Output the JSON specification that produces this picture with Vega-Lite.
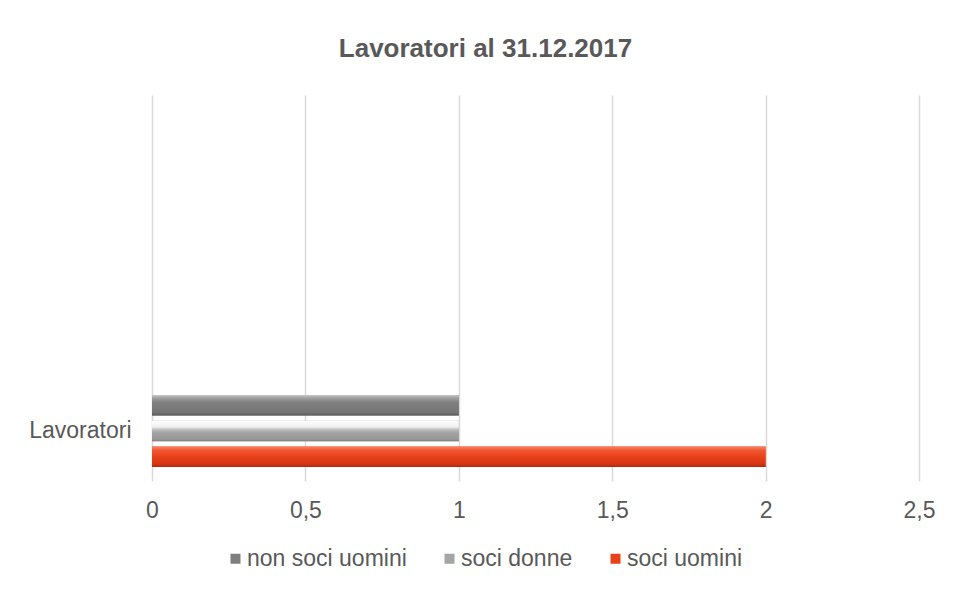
{
  "$schema": "https://vega.github.io/schema/vega-lite/v6.json",
  "width": 767,
  "height": 386,
  "autosize": {"type": "none"},
  "padding": {"left": 152, "top": 95, "right": 36, "bottom": 109},
  "background": "#ffffff",
  "config": {
    "view": {"stroke": null},
    "font": "Liberation Sans",
    "axis": {"labelFont": "Liberation Sans", "labelColor": "#595959"},
    "legend": {"labelFont": "Liberation Sans", "labelColor": "#595959"}
  },
  "title": {
    "text": "Lavoratori al 31.12.2017",
    "fontSize": 26,
    "fontWeight": "bold",
    "color": "#595959",
    "font": "Liberation Sans",
    "anchor": "middle",
    "dx": -50,
    "offset": 33
  },
  "data": {
    "values": [
      {"cat": "Lavoratori", "serie": "non soci uomini", "valore": 1},
      {"cat": "Lavoratori", "serie": "soci donne", "valore": 1},
      {"cat": "Lavoratori", "serie": "soci uomini", "valore": 2}
    ]
  },
  "encoding": {
    "y": {
      "field": "cat",
      "type": "nominal",
      "title": null,
      "scale": {"domain": ["Lavoratori"], "paddingInner": 0.5, "paddingOuter": 1, "align": 0.963},
      "axis": {"domain": false, "ticks": false, "labelPadding": 21, "labelFontSize": 23}
    },
    "yOffset": {
      "field": "serie",
      "type": "nominal",
      "scale": {"domain": ["non soci uomini", "soci donne", "soci uomini"], "paddingInner": 0.2, "paddingOuter": 0.1}
    },
    "x": {
      "field": "valore",
      "type": "quantitative",
      "title": null,
      "scale": {"domain": [0, 2.5], "nice": false},
      "axis": {
        "values": [0, 0.5, 1, 1.5, 2, 2.5],
        "labelExpr": "replace(toString(datum.value), '.', ',')",
        "grid": true,
        "gridColor": "#d9d9d9",
        "gridWidth": 1.5,
        "domain": false,
        "ticks": false,
        "labelPadding": 18,
        "labelFontSize": 23,
        "labelFlush": false
      }
    }
  },
  "layer": [
    {
      "mark": {"type": "bar"},
      "encoding": {
        "color": {
          "field": "serie",
          "type": "nominal",
          "scale": {
            "domain": ["non soci uomini", "soci donne", "soci uomini"],
            "range": ["#7f7f7f", "#a5a5a5", "#e8421b"]
          },
          "legend": {
            "title": null,
            "orient": "none",
            "direction": "horizontal",
            "legendX": 72,
            "legendY": 452,
            "symbolType": "square",
            "symbolSize": 100,
            "symbolStrokeWidth": 0,
            "symbolOpacity": 1,
            "labelFontSize": 23,
            "labelOffset": 0,
            "columnPadding": 31
          }
        }
      }
    },
    {
      "transform": [{"filter": "datum.serie == 'non soci uomini'"}],
      "mark": {"type": "bar", "color": {"gradient": "linear", "x1": 0, "y1": 0, "x2": 0, "y2": 1, "stops": [
        {"offset": 0, "color": "#c8c8c8"}, {"offset": 0.15, "color": "#a0a0a0"}, {"offset": 0.35, "color": "#808080"}, {"offset": 0.85, "color": "#747474"}, {"offset": 1, "color": "#5a5a5a"}]}}
    },
    {
      "transform": [{"filter": "datum.serie == 'soci donne'"}],
      "mark": {"type": "bar", "color": {"gradient": "linear", "x1": 0, "y1": 0, "x2": 0, "y2": 1, "stops": [
        {"offset": 0, "color": "#ffffff"}, {"offset": 0.3, "color": "#f0f0f0"}, {"offset": 0.45, "color": "#b8b8b8"}, {"offset": 0.6, "color": "#a2a2a2"}, {"offset": 0.9, "color": "#979797"}, {"offset": 1, "color": "#808080"}]}}
    },
    {
      "transform": [{"filter": "datum.serie == 'soci uomini'"}],
      "mark": {"type": "bar", "color": {"gradient": "linear", "x1": 0, "y1": 0, "x2": 0, "y2": 1, "stops": [
        {"offset": 0, "color": "#f7876a"}, {"offset": 0.2, "color": "#f05530"}, {"offset": 0.5, "color": "#e8421b"}, {"offset": 0.85, "color": "#d83514"}, {"offset": 1, "color": "#b02a0e"}]}}
    }
  ]
}
